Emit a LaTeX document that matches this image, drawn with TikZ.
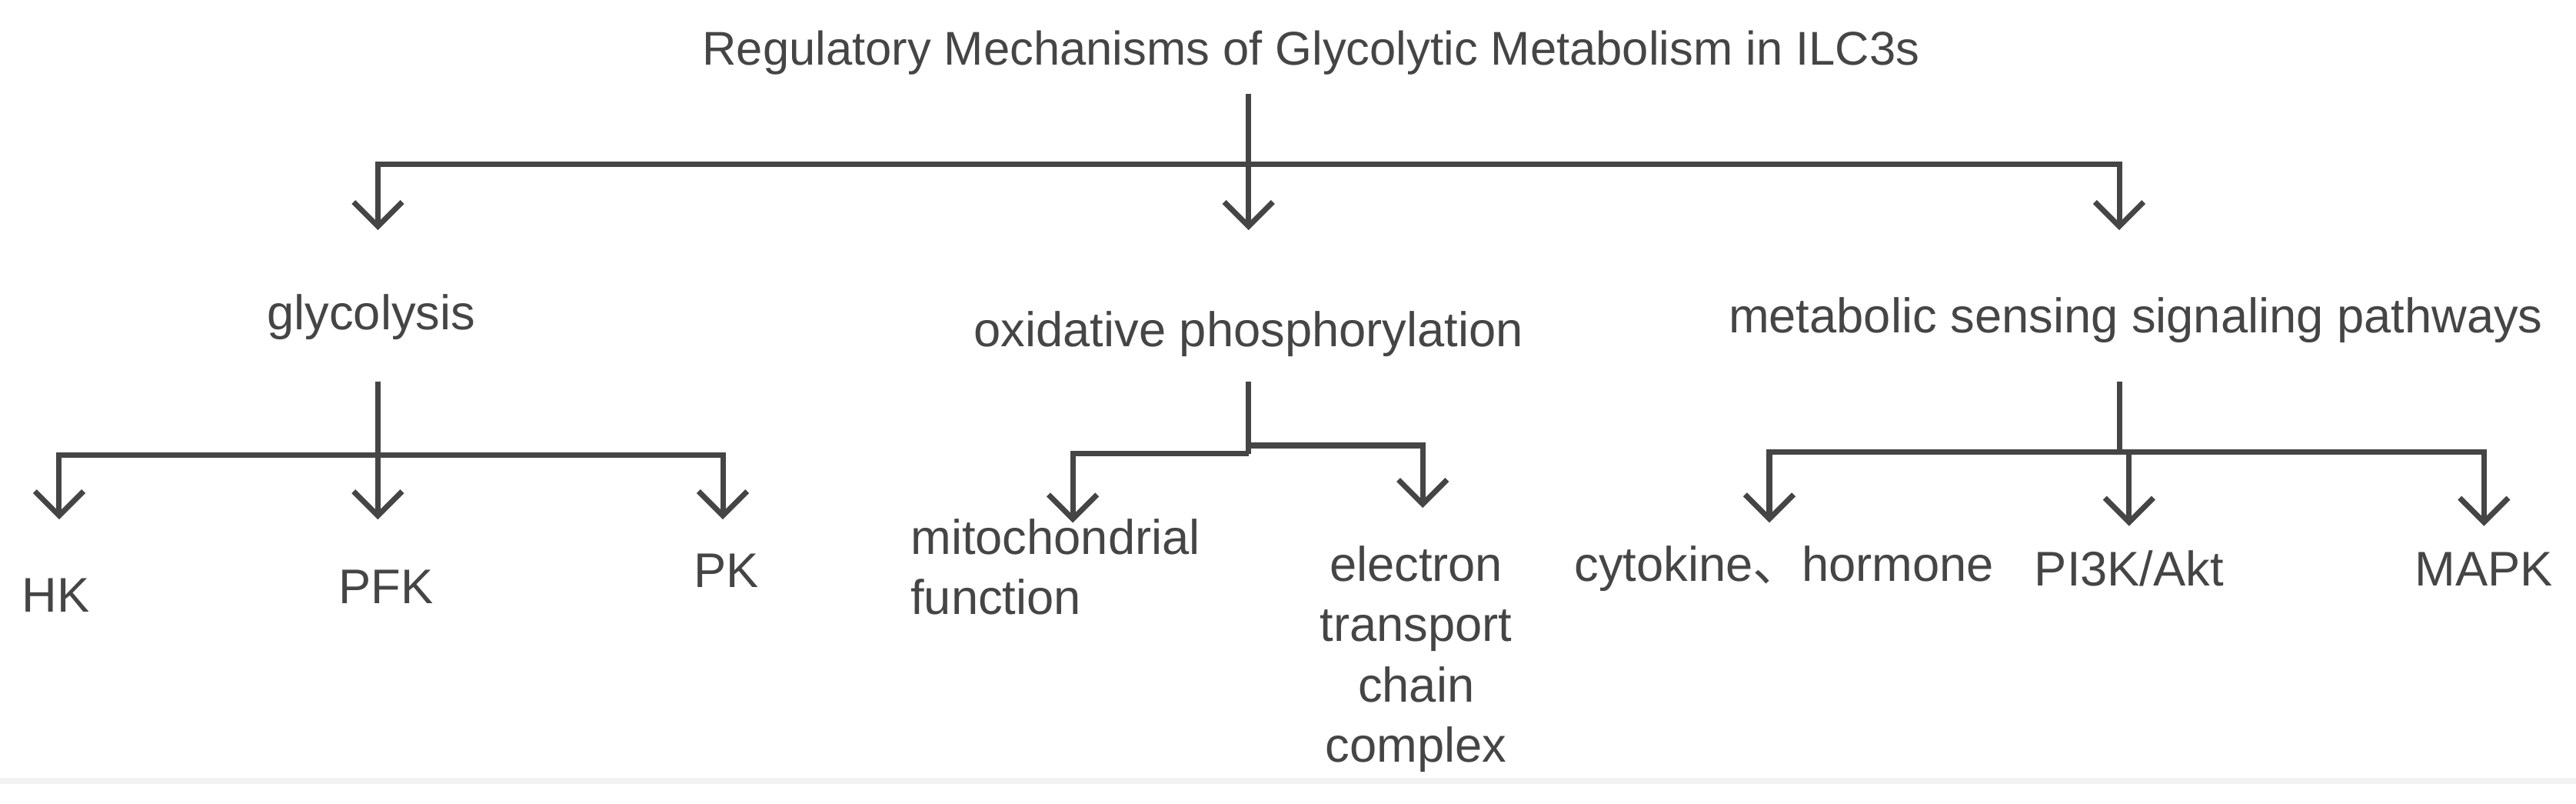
\documentclass[tikz,border=0pt]{standalone}
\usepackage{fontspec}
\setmainfont{Liberation Sans}
\newfontfamily\cjk{Noto Sans CJK SC}
\usetikzlibrary{arrows.meta}
\definecolor{ink}{HTML}{454545}
\begin{document}
\begin{tikzpicture}[x=0.021365cm,y=-0.021365cm,
  ln/.style={draw=ink,line width=2pt},
  ar/.style={ln,-{Straight Barb[length=9pt,width=18pt,line width=2pt]}},
  t/.style={text=ink,font=\fontsize{18}{22.3}\selectfont,inner sep=0pt},
  ttl/.style={t,font=\fontsize{17.5}{20}\selectfont}]
\useasboundingbox (0,0) rectangle (1568,489);
\fill[black!5] (0,473) rectangle (1568,477);
\node[ttl] (title) at (798,32) {Regulatory Mechanisms of Glycolytic Metabolism in ILC3s};
\node[t] (gly) at (226,193) {glycolysis};
\node[t] (ox) at (760,203) {oxidative phosphorylation};
\node[t] (ms) at (1300,195) {metabolic sensing signaling pathways};
\node[t] (hk) at (34,362) {HK};
\node[t] (pfk) at (235,357) {PFK};
\node[t] (pk) at (442,347) {PK};
\node[t,anchor=west,align=left] (mito) at (554,345) {mitochondrial\\function};
\node[t,align=center] (etc) at (862,401) {electron\\transport\\chain\\complex};
\node[t] (cyt) at (1086,346) {cytokine{\cjk 、}hormone};
\node[t] (pi3k) at (1296,346) {PI3K/Akt};
\node[t] (mapk) at (1512,346) {MAPK};
% top
\coordinate (r0) at (760,57);
\coordinate (r1) at (760,100);
\draw[ln] (r0) -- (r1);
\draw[ar] (r1) -| (230,140);
\draw[ar] (r0) -- (760,140);
\draw[ar] (r1) -| (1290,140);
% glycolysis
\coordinate (g0) at (230,232); \coordinate (g1) at (230,277);
\draw[ln] (g0) -- (g1);
\draw[ar] (g1) -| (36,316);
\draw[ar] (g0) -- (230,316);
\draw[ar] (g1) -| (440,316);
% oxphos
\coordinate (o0) at (760,232); \coordinate (o1) at (760,276); \coordinate (o2) at (760,271);
\draw[ln] (o0) -- (o1);
\draw[ar] (o1) -| (653,318);
\draw[ar] (o2) -| (866,309);
% metabolic
\coordinate (m0) at (1290,232); \coordinate (m1) at (1290,275);
\draw[ln] (m0) -- (m1);
\draw[ar] (m1) -| (1077,318);
\draw[ar] (m1) -| (1296,320);
\draw[ar] (m1) -| (1512,320);
\end{tikzpicture}
\end{document}
